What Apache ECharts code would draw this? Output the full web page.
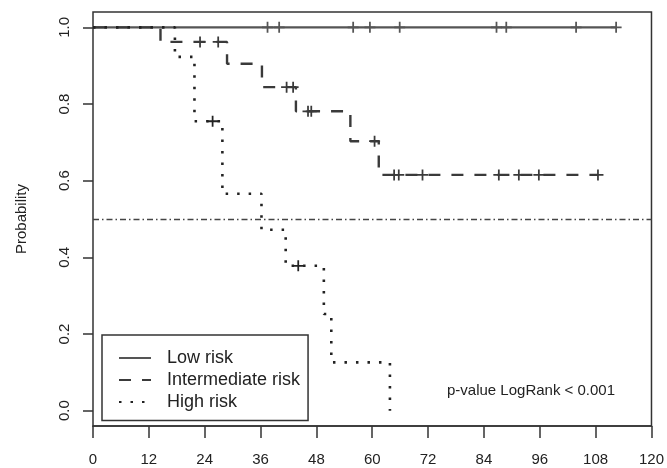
<!DOCTYPE html>
<html>
<head>
<meta charset="utf-8">
<script src="https://cdn.jsdelivr.net/npm/echarts@6/dist/echarts.min.js"></script>
<style>html,body{margin:0;padding:0;background:#fff}#c{width:667px;height:468px}</style>
</head>
<body>
<div id="c"></div>
<script>
// ---- data (months, survival probability) ----
var xTicks = [0, 12, 24, 36, 48, 60, 72, 84, 96, 108, 120];
var yTicks = [0, 0.2, 0.4, 0.6, 0.8, 1.0];

var lowTimes = [0, 112.4];
var lowSurv = [1, 1];
var lowCensorTimes = [37.5, 40.0, 55.9, 59.5, 65.9, 86.7, 88.8, 103.8, 112.4];
var lowCensorSurv = [1, 1, 1, 1, 1, 1, 1, 1, 1];

var intTimes = [0, 14.5, 28.8, 36.3, 43.6, 55.3, 61.4, 108.5];
var intSurv = [1, 0.962, 0.905, 0.844, 0.781, 0.703, 0.615, 0.615];
var intCensorTimes = [23.0, 26.9, 41.6, 43.0, 46.2, 46.9, 60.5, 64.7, 65.7, 70.8, 87.2, 91.5, 95.8, 108.5];
var intCensorSurv = [0.962, 0.962, 0.844, 0.844, 0.781, 0.781, 0.703, 0.615, 0.615, 0.615, 0.615, 0.615, 0.615, 0.615];

var highTimes = [0, 17.6, 21.8, 27.8, 36.2, 41.4, 49.6, 51.2, 63.8];
var highSurv = [1, 0.923, 0.755, 0.566, 0.472, 0.378, 0.252, 0.126, 0];
var highCensorTimes = [25.7, 44.1];
var highCensorSurv = [0.755, 0.378];

var medianLine = 0.5;
var seriesNames = ['Low risk', 'Intermediate risk', 'High risk'];
var pText = 'p-value LogRank < 0.001';

function zip(a, b) { return a.map(function (v, i) { return [v, b[i]]; }); }

var FONT = '"Liberation Sans", Arial, sans-serif';
var INK = '#333';
var PLUS = 'path://M0,4.2H10V5.8H0Z M4.2,0H5.8V10H4.2Z';

var chart = echarts.init(document.getElementById('c'), null, { renderer: 'canvas' });
chart.setOption({
  animation: false,
  backgroundColor: '#fff',
  grid: {
    left: 93, right: 15, top: 12, bottom: 42,
    show: true, borderColor: INK, borderWidth: 1.5, backgroundColor: 'transparent'
  },
  xAxis: {
    type: 'value', min: 0, max: 120, interval: 12,
    axisLine: { show: true, onZero: false, lineStyle: { color: INK, width: 1.5 } },
    axisTick: { show: true, inside: false, length: 12, lineStyle: { color: INK, width: 1.5 } },
    axisLabel: {
      show: true, margin: 26, fontSize: 15, color: '#222', fontFamily: FONT,
      showMinLabel: true, showMaxLabel: true,
      customValues: xTicks
    },
    splitLine: { show: false }
  },
  yAxis: {
    type: 'value', min: -0.04, max: 1.04,
    name: 'Probability', nameLocation: 'middle', nameGap: 64, nameRotate: 90,
    nameTextStyle: { fontSize: 15, color: '#222', fontFamily: FONT },
    axisLine: { show: false, onZero: false },
    axisTick: { show: true, length: 10, customValues: yTicks, lineStyle: { color: INK, width: 1.5 } },
    axisLabel: {
      show: true, rotate: 90, margin: 21, fontSize: 15, color: '#222', fontFamily: FONT,
      customValues: yTicks,
      formatter: function (v) { return v.toFixed(1); }
    },
    splitLine: { show: false }
  },
  legend: {
    orient: 'vertical', left: 102, top: 335,
    data: seriesNames,
    itemWidth: 32, itemHeight: 14, itemGap: 4,
    padding: [14, 8, 9.5, 16],
    borderColor: INK, borderWidth: 1.5, backgroundColor: '#fff',
    itemStyle: { color: 'rgba(0,0,0,0)', borderColor: 'rgba(0,0,0,0)', borderWidth: 0 },
    textStyle: { fontSize: 18, lineHeight: 14, color: '#222', fontFamily: FONT, padding: [0, 0, 0, 11] },
    selectedMode: false
  },
  graphic: [{
    type: 'text', left: 447, top: 383, silent: true,
    style: { text: pText, fontSize: 15, fill: '#222', font: '15px ' + FONT }
  }],
  series: [
    {
      name: seriesNames[0], type: 'line', step: 'end', symbol: 'none', showSymbol: false,
      data: zip(lowTimes, lowSurv),
      lineStyle: { color: '#555', width: 2.2, type: 'solid' },
      itemStyle: { color: '#555' },
      markLine: {
        silent: true, symbol: ['none', 'none'], label: { show: false },
        lineStyle: { color: '#444', width: 1.3, type: [6, 3, 1.5, 3] },
        data: [{ yAxis: medianLine }]
      },
      z: 3
    },
    {
      name: seriesNames[1], type: 'line', step: 'end', symbol: 'none', showSymbol: false,
      data: zip(intTimes, intSurv),
      lineStyle: { color: '#3a3a3a', width: 2.4, type: [12, 11] },
      itemStyle: { color: '#3a3a3a' },
      z: 3
    },
    {
      name: seriesNames[2], type: 'line', step: 'end', symbol: 'none', showSymbol: false,
      data: zip(highTimes, highSurv),
      lineStyle: { color: '#222', width: 2.6, type: [2.5, 9] },
      itemStyle: { color: '#222' },
      z: 3
    },
    {
      type: 'scatter', symbol: PLUS, symbolSize: 11, silent: true,
      data: zip(lowCensorTimes, lowCensorSurv),
      itemStyle: { color: '#555', opacity: 1 }, z: 4
    },
    {
      type: 'scatter', symbol: PLUS, symbolSize: 11, silent: true,
      data: zip(intCensorTimes, intCensorSurv),
      itemStyle: { color: '#3a3a3a', opacity: 1 }, z: 4
    },
    {
      type: 'scatter', symbol: PLUS, symbolSize: 11, silent: true,
      data: zip(highCensorTimes, highCensorSurv),
      itemStyle: { color: '#222', opacity: 1 }, z: 4
    }
  ]
});
</script>
</body>
</html>
